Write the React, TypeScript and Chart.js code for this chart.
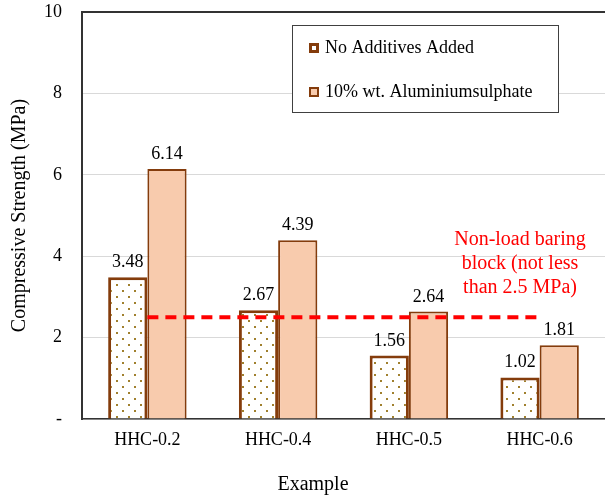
import React, { useEffect, useRef } from "react";
import { Chart, registerables } from "chart.js";

Chart.register(...registerables);

const categories = ["HHC-0.2", "HHC-0.4", "HHC-0.5", "HHC-0.6"];
const noAdditives = [3.48, 2.67, 1.56, 1.02];
const aluminium = [6.14, 4.39, 2.64, 1.81];
const threshold = [2.5, 2.5, 2.5, 2.5];
const seriesLabels = ["No Additives Added", "10% wt. Aluminiumsulphate"];
const annotationLines = ["Non-load baring", "block (not less", "than 2.5 MPa)"];
const yTitle = "Compressive Strength (MPa)";
const xTitle = "Example";

const FONT = "'Liberation Serif', 'Times New Roman', serif";
const BROWN = "#843c0c";
const PEACH = "#f8cbad";

function makePattern(): CanvasPattern | string {
  const c = document.createElement("canvas");
  c.width = 12;
  c.height = 12;
  const g = c.getContext("2d");
  if (!g) return "#fff";
  g.fillStyle = "#ffffff";
  g.fillRect(0, 0, 12, 12);
  g.fillStyle = "#a0802e";
  g.fillRect(2, 2, 2, 2);
  g.fillRect(8, 8, 2, 2);
  const p = g.createPattern(c, "repeat");
  return p || "#fff";
}

const valueLabels = {
  id: "valueLabels",
  afterDatasetsDraw(chart: any) {
    const ctx = chart.ctx;
    ctx.save();
    ctx.font = `18px ${FONT}`;
    ctx.fillStyle = "#000";
    ctx.textAlign = "center";
    ctx.textBaseline = "alphabetic";
    [0, 1].forEach((di) => {
      const meta = chart.getDatasetMeta(di);
      const ds = chart.data.datasets[di];
      meta.data.forEach((bar: any, i: number) => {
        ctx.fillText(Number(ds.data[i]).toFixed(2), bar.x, bar.y - 10);
      });
    });
    ctx.restore();
  },
};

const extras = {
  id: "extras",
  afterDraw(chart: any) {
    const ctx = chart.ctx;
    const area = chart.chartArea;
    const xs = chart.scales.x;
    const ys = chart.scales.y;
    ctx.save();

    // annotation text
    ctx.font = `20px ${FONT}`;
    ctx.fillStyle = "#ff0000";
    ctx.textAlign = "center";
    ctx.textBaseline = "middle";
    const ax = xs.getPixelForValue(2.85);
    const ay = ys.getPixelForValue(4.4);
    annotationLines.forEach((t, i) => ctx.fillText(t, ax, ay + i * 24));

    // legend
    const lx = area.left + 210;
    const ly = area.top + 13;
    const lw = 266;
    const lh = 87;
    ctx.fillStyle = "#fff";
    ctx.fillRect(lx, ly, lw, lh);
    ctx.strokeStyle = "#404040";
    ctx.lineWidth = 1;
    ctx.strokeRect(lx + 0.5, ly + 0.5, lw, lh);
    ctx.font = `18px ${FONT}`;
    ctx.textAlign = "left";
    ctx.textBaseline = "middle";
    const fills = ["#ffffff", PEACH];
    const bw = [3, 2];
    [0, 1].forEach((i) => {
      const cy = ly + 23 + i * 44;
      const mx = lx + 17;
      ctx.fillStyle = BROWN;
      ctx.fillRect(mx, cy - 5, 10, 10);
      ctx.fillStyle = fills[i];
      ctx.fillRect(mx + bw[i], cy - 5 + bw[i], 10 - 2 * bw[i], 10 - 2 * bw[i]);
      ctx.fillStyle = "#000";
      ctx.fillText(chart.data.datasets[i].label, mx + 16, cy);
    });

    // x title
    ctx.font = `20px ${FONT}`;
    ctx.fillStyle = "#000";
    ctx.textAlign = "center";
    ctx.textBaseline = "middle";
    ctx.fillText(xTitle, chart.width / 2 + 8, 485);
    ctx.restore();
  },
};

export default function App() {
  const ref = useRef<HTMLCanvasElement>(null);
  useEffect(() => {
    const canvas = ref.current;
    if (!canvas) return;
    const pattern = makePattern();
    const chart = new Chart(canvas, {
      type: "bar",
      data: {
        labels: categories,
        datasets: [
          {
            type: "bar",
            label: seriesLabels[0],
            data: noAdditives,
            backgroundColor: pattern as any,
            borderColor: BROWN,
            borderWidth: 3,
            categoryPercentage: 0.6,
            barPercentage: 1.0,
            order: 1,
          },
          {
            type: "bar",
            label: seriesLabels[1],
            data: aluminium,
            backgroundColor: PEACH,
            borderColor: BROWN,
            borderWidth: 2,
            categoryPercentage: 0.6,
            barPercentage: 1.0,
            order: 1,
          },
          {
            type: "line",
            label: "threshold",
            data: threshold,
            borderColor: "#ff0000",
            borderWidth: 4,
            borderDash: [11, 7],
            pointRadius: 0,
            fill: false,
            order: 0,
          } as any,
        ],
      },
      options: {
        responsive: false,
        animation: false,
        devicePixelRatio: 1,
        layout: { padding: { top: 12, right: 5, left: 0, bottom: 0 } },
        plugins: {
          legend: { display: false },
          tooltip: { enabled: false },
          title: { display: false },
        },
        scales: {
          x: {
            grid: { display: false, drawTicks: false },
            border: { display: true, color: "#333", width: 1.5 },
            ticks: { font: { family: FONT, size: 18 }, color: "#000", padding: 10 },
            afterFit: (s: any) => {
              s.height = 78;
              s.paddingLeft = 0;
              s.paddingRight = 0;
            },
          },
          y: {
            min: 0,
            max: 10,
            ticks: {
              stepSize: 2,
              font: { family: FONT, size: 18 },
              color: "#000",
              padding: 20,
              callback: (v: any) => (Number(v) === 0 ? "-" : String(v)),
            },
            grid: {
              drawTicks: false,
              color: (c: any) => (c.tick && c.tick.value === 10 ? "#333" : "#d9d9d9"),
              lineWidth: (c: any) => (c.tick && c.tick.value === 10 ? 2 : 1),
            },
            border: { display: true, color: "#333", width: 2 },
            title: {
              display: true,
              text: yTitle,
              font: { family: FONT, size: 20 },
              color: "#000",
              padding: { top: 8, bottom: 4 },
            },
            afterFit: (s: any) => {
              s.width = 82;
              s.paddingTop = 0;
              s.paddingBottom = 0;
            },
          },
        },
      } as any,
      plugins: [valueLabels, extras],
    });
    return () => chart.destroy();
  }, []);
  return (
    <div style={{ position: "fixed", left: 0, top: 0, width: 610, height: 497, overflow: "hidden" }}>
      <canvas ref={ref} width={610} height={497} style={{ width: 610, height: 497, display: "block" }} />
    </div>
  );
}
